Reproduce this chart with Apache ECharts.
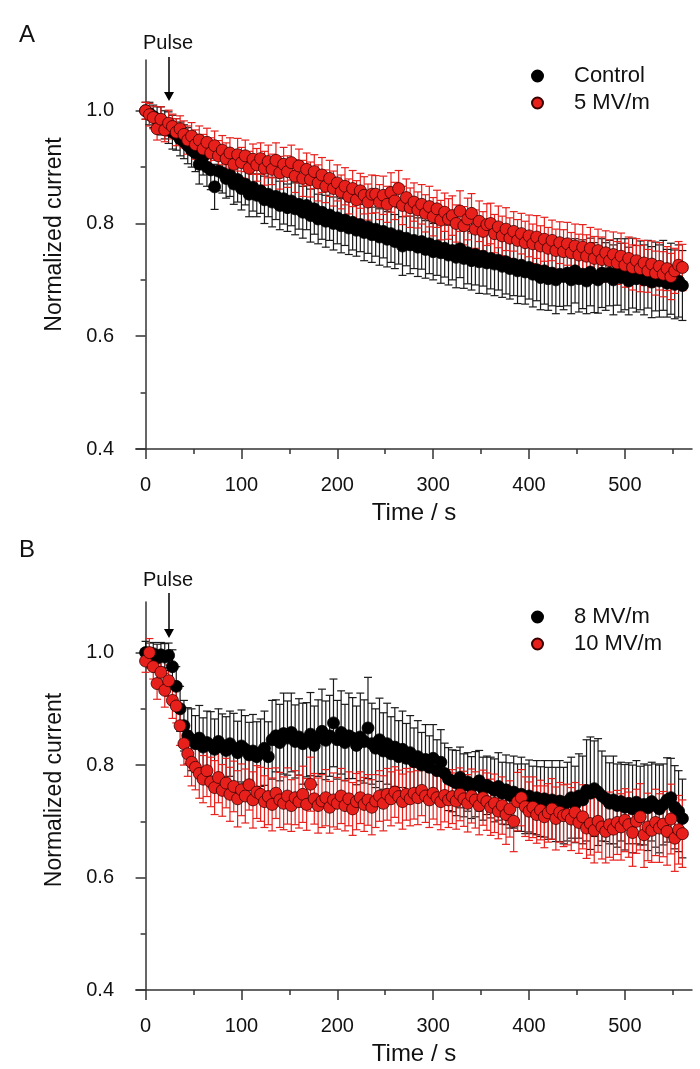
<!DOCTYPE html>
<html>
<head>
<meta charset="utf-8">
<script src="https://cdn.jsdelivr.net/npm/echarts@6/dist/echarts.min.js"></script>
<style>
    html, body { margin: 0; padding: 0; background: #fff; }
    #chart { width: 700px; height: 1069px; }
</style>
</head>
<body>
<div id="chart"></div>
<script>
// sampling times (s), shared by all four traces
var times = [
    0, 4, 8, 12, 16, 20, 24, 28, 32, 36,
    40, 44, 48, 52, 56, 60, 64, 68, 72, 76,
    80, 84, 88, 92, 96, 100, 104, 108, 112, 116,
    120, 124, 128, 132, 136, 140, 144, 148, 152, 156,
    160, 164, 168, 172, 176, 180, 184, 188, 192, 196,
    200, 204, 208, 212, 216, 220, 224, 228, 232, 236,
    240, 244, 248, 252, 256, 260, 264, 268, 272, 276,
    280, 284, 288, 292, 296, 300, 304, 308, 312, 316,
    320, 324, 328, 332, 336, 340, 344, 348, 352, 356,
    360, 364, 368, 372, 376, 380, 384, 388, 392, 396,
    400, 404, 408, 412, 416, 420, 424, 428, 432, 436,
    440, 444, 448, 452, 456, 460, 464, 468, 472, 476,
    480, 484, 488, 492, 496, 500, 504, 508, 512, 516,
    520, 524, 528, 532, 536, 540, 544, 548, 552, 556,
    560
];

// panel A - control
var controlA = [
    1.000, 0.995, 0.990, 0.985, 0.982, 0.975, 0.970, 0.962, 0.958, 0.950,
    0.945, 0.938, 0.930, 0.925, 0.905, 0.918, 0.900, 0.895, 0.865, 0.893,
    0.890, 0.880, 0.886, 0.870, 0.878, 0.862, 0.870, 0.852, 0.864, 0.850,
    0.858, 0.842, 0.852, 0.838, 0.848, 0.832, 0.844, 0.828, 0.840, 0.826,
    0.834, 0.820, 0.832, 0.814, 0.826, 0.808, 0.820, 0.804, 0.815, 0.800,
    0.810, 0.796, 0.806, 0.792, 0.802, 0.788, 0.798, 0.784, 0.794, 0.780,
    0.790, 0.776, 0.786, 0.772, 0.782, 0.768, 0.778, 0.760, 0.774, 0.762,
    0.770, 0.758, 0.768, 0.754, 0.764, 0.750, 0.760, 0.748, 0.756, 0.744,
    0.752, 0.740, 0.755, 0.738, 0.748, 0.734, 0.745, 0.732, 0.742, 0.730,
    0.738, 0.728, 0.735, 0.724, 0.732, 0.720, 0.728, 0.716, 0.726, 0.714,
    0.722, 0.710, 0.718, 0.704, 0.716, 0.702, 0.712, 0.700, 0.710, 0.706,
    0.712, 0.700, 0.716, 0.702, 0.710, 0.698, 0.714, 0.704, 0.700, 0.712,
    0.706, 0.712, 0.700, 0.714, 0.704, 0.710, 0.698, 0.712, 0.702, 0.708,
    0.700, 0.710, 0.696, 0.706, 0.698, 0.708, 0.694, 0.702, 0.692, 0.698,
    0.690
];
var controlAErr = [
    0.015, 0.020, 0.020, 0.022, 0.025, 0.025, 0.028, 0.030, 0.028, 0.030,
    0.030, 0.032, 0.030, 0.033, 0.035, 0.032, 0.034, 0.035, 0.040, 0.035,
    0.036, 0.035, 0.038, 0.036, 0.040, 0.038, 0.037, 0.040, 0.042, 0.038,
    0.040, 0.042, 0.040, 0.044, 0.041, 0.043, 0.045, 0.042, 0.044, 0.046,
    0.044, 0.046, 0.043, 0.047, 0.045, 0.044, 0.048, 0.046, 0.045, 0.047,
    0.046, 0.048, 0.045, 0.047, 0.049, 0.046, 0.048, 0.050, 0.047, 0.049,
    0.048, 0.050, 0.047, 0.049, 0.051, 0.048, 0.050, 0.052, 0.049, 0.051,
    0.050, 0.052, 0.049, 0.051, 0.053, 0.050, 0.052, 0.054, 0.051, 0.053,
    0.052, 0.054, 0.051, 0.053, 0.055, 0.052, 0.054, 0.056, 0.053, 0.055,
    0.054, 0.056, 0.053, 0.055, 0.057, 0.054, 0.056, 0.058, 0.055, 0.057,
    0.056, 0.058, 0.055, 0.057, 0.059, 0.056, 0.058, 0.060, 0.057, 0.059,
    0.058, 0.060, 0.057, 0.059, 0.061, 0.058, 0.060, 0.062, 0.059, 0.061,
    0.060, 0.058, 0.062, 0.059, 0.061, 0.063, 0.060, 0.062, 0.059, 0.061,
    0.062, 0.060, 0.063, 0.061, 0.064, 0.062, 0.060, 0.063, 0.061, 0.064,
    0.062
];

// panel A - 5 MV/m
var pulse5 = [
    1.000, 0.993, 0.988, 0.968, 0.985, 0.966, 0.978, 0.972, 0.962, 0.968,
    0.958, 0.948, 0.955, 0.940, 0.948, 0.932, 0.944, 0.925, 0.938, 0.920,
    0.930, 0.915, 0.925, 0.905, 0.922, 0.908, 0.920, 0.898, 0.914, 0.904,
    0.915, 0.898, 0.910, 0.896, 0.912, 0.890, 0.905, 0.892, 0.908, 0.884,
    0.902, 0.880, 0.896, 0.878, 0.892, 0.872, 0.886, 0.866, 0.880, 0.862,
    0.872, 0.856, 0.866, 0.848, 0.862, 0.842, 0.858, 0.850, 0.838, 0.852,
    0.852, 0.838, 0.850, 0.834, 0.855, 0.840, 0.862, 0.832, 0.846, 0.828,
    0.838, 0.824, 0.834, 0.818, 0.830, 0.812, 0.826, 0.806, 0.820, 0.808,
    0.814, 0.800, 0.822, 0.796, 0.808, 0.818, 0.790, 0.804, 0.786, 0.798,
    0.800, 0.782, 0.794, 0.778, 0.790, 0.774, 0.786, 0.770, 0.782, 0.766,
    0.778, 0.764, 0.776, 0.760, 0.772, 0.756, 0.770, 0.752, 0.766, 0.750,
    0.764, 0.748, 0.760, 0.744, 0.758, 0.742, 0.756, 0.738, 0.752, 0.736,
    0.748, 0.734, 0.745, 0.730, 0.742, 0.726, 0.738, 0.722, 0.734, 0.720,
    0.730, 0.716, 0.728, 0.712, 0.724, 0.710, 0.720, 0.706, 0.716, 0.726,
    0.722
];
var pulse5Err = [
    0.015, 0.020, 0.020, 0.020, 0.022, 0.021, 0.023, 0.022, 0.024, 0.023,
    0.024, 0.025, 0.024, 0.026, 0.025, 0.026, 0.025, 0.027, 0.026, 0.027,
    0.026, 0.028, 0.027, 0.026, 0.029, 0.027, 0.028, 0.030, 0.027, 0.029,
    0.028, 0.030, 0.029, 0.027, 0.031, 0.029, 0.030, 0.028, 0.031, 0.029,
    0.030, 0.032, 0.029, 0.031, 0.030, 0.032, 0.031, 0.029, 0.032, 0.031,
    0.032, 0.030, 0.033, 0.031, 0.032, 0.034, 0.031, 0.033, 0.032, 0.034,
    0.033, 0.031, 0.034, 0.032, 0.035, 0.033, 0.032, 0.034, 0.033, 0.035,
    0.034, 0.032, 0.035, 0.033, 0.036, 0.034, 0.033, 0.035, 0.034, 0.036,
    0.035, 0.033, 0.036, 0.034, 0.037, 0.035, 0.034, 0.036, 0.035, 0.037,
    0.036, 0.034, 0.037, 0.035, 0.038, 0.036, 0.035, 0.037, 0.036, 0.038,
    0.037, 0.035, 0.038, 0.036, 0.039, 0.037, 0.036, 0.038, 0.037, 0.039,
    0.038, 0.036, 0.039, 0.037, 0.040, 0.038, 0.037, 0.039, 0.038, 0.040,
    0.039, 0.037, 0.040, 0.038, 0.041, 0.039, 0.038, 0.040, 0.039, 0.041,
    0.040, 0.038, 0.041, 0.039, 0.042, 0.040, 0.039, 0.041, 0.040, 0.042,
    0.041
];

// panel B - 8 MV/m
var pulse8 = [
    1.000, 0.995, 0.998, 0.990, 0.996, 0.992, 0.995, 0.975, 0.940, 0.900,
    0.870, 0.852, 0.845, 0.838, 0.848, 0.832, 0.840, 0.835, 0.828, 0.842,
    0.835, 0.826, 0.838, 0.830, 0.822, 0.834, 0.828, 0.818, 0.825, 0.815,
    0.822, 0.830, 0.815, 0.845, 0.852, 0.840, 0.856, 0.848, 0.858, 0.842,
    0.850, 0.838, 0.845, 0.855, 0.835, 0.848, 0.860, 0.844, 0.852, 0.875,
    0.845, 0.858, 0.840, 0.852, 0.848, 0.835, 0.850, 0.842, 0.866, 0.838,
    0.830, 0.845, 0.825, 0.838, 0.820, 0.832, 0.815, 0.828, 0.812, 0.822,
    0.806, 0.815, 0.800, 0.810, 0.796, 0.812, 0.790, 0.805, 0.785, 0.775,
    0.772, 0.768, 0.778, 0.764, 0.770, 0.760, 0.766, 0.772, 0.758, 0.764,
    0.760, 0.755, 0.762, 0.750, 0.756, 0.746, 0.752, 0.742, 0.748, 0.740,
    0.745, 0.738, 0.742, 0.735, 0.740, 0.732, 0.738, 0.730, 0.736, 0.728,
    0.735, 0.742, 0.730, 0.745, 0.738, 0.755, 0.750, 0.758, 0.752, 0.745,
    0.740, 0.732, 0.738, 0.728, 0.735, 0.725, 0.732, 0.722, 0.734, 0.728,
    0.730, 0.724, 0.735, 0.728, 0.722, 0.730, 0.738, 0.742, 0.725, 0.718,
    0.705
];
var pulse8Err = [
    0.020, 0.022, 0.020, 0.025, 0.022, 0.024, 0.022, 0.030, 0.035, 0.040,
    0.045, 0.050, 0.055, 0.050, 0.058, 0.052, 0.056, 0.060, 0.054, 0.058,
    0.056, 0.060, 0.058, 0.062, 0.056, 0.064, 0.060, 0.058, 0.065, 0.062,
    0.060, 0.066, 0.062, 0.070, 0.064, 0.068, 0.072, 0.066, 0.070, 0.065,
    0.068, 0.072, 0.066, 0.074, 0.070, 0.068, 0.075, 0.070, 0.072, 0.078,
    0.070, 0.074, 0.068, 0.076, 0.072, 0.070, 0.078, 0.074, 0.090, 0.072,
    0.070, 0.074, 0.068, 0.072, 0.066, 0.070, 0.064, 0.068, 0.062, 0.066,
    0.060, 0.064, 0.058, 0.062, 0.056, 0.060, 0.055, 0.058, 0.054, 0.056,
    0.055, 0.058, 0.054, 0.056, 0.052, 0.055, 0.058, 0.054, 0.056, 0.052,
    0.054, 0.056, 0.060, 0.055, 0.062, 0.058, 0.064, 0.060, 0.066, 0.062,
    0.064, 0.060, 0.066, 0.062, 0.068, 0.064, 0.070, 0.066, 0.072, 0.068,
    0.070, 0.072, 0.068, 0.075, 0.078, 0.090, 0.100, 0.085, 0.095, 0.080,
    0.076, 0.072, 0.078, 0.074, 0.070, 0.076, 0.072, 0.078, 0.074, 0.070,
    0.072, 0.076, 0.070, 0.074, 0.078, 0.072, 0.075, 0.070, 0.074, 0.072,
    0.070
];

// panel B - 10 MV/m
var pulse10 = [
    0.985, 1.000, 0.975, 0.945, 0.965, 0.933, 0.950, 0.915, 0.905, 0.870,
    0.838, 0.820, 0.805, 0.796, 0.785, 0.775, 0.790, 0.770, 0.760, 0.778,
    0.755, 0.768, 0.748, 0.762, 0.740, 0.756, 0.745, 0.765, 0.738, 0.752,
    0.748, 0.735, 0.744, 0.730, 0.750, 0.738, 0.732, 0.745, 0.728, 0.742,
    0.735, 0.748, 0.730, 0.766, 0.740, 0.728, 0.736, 0.742, 0.725, 0.738,
    0.732, 0.745, 0.728, 0.740, 0.722, 0.735, 0.742, 0.730, 0.738, 0.725,
    0.736, 0.745, 0.732, 0.748, 0.740, 0.752, 0.744, 0.735, 0.748, 0.740,
    0.750, 0.742, 0.755, 0.745, 0.738, 0.750, 0.742, 0.735, 0.746, 0.738,
    0.744, 0.736, 0.748, 0.740, 0.732, 0.745, 0.738, 0.728, 0.742, 0.735,
    0.725, 0.732, 0.718, 0.728, 0.712, 0.722, 0.700, 0.735, 0.742, 0.726,
    0.718, 0.725, 0.712, 0.720, 0.708, 0.715, 0.722, 0.705, 0.716, 0.710,
    0.712, 0.704, 0.716, 0.698, 0.708, 0.688, 0.696, 0.684, 0.700, 0.690,
    0.682, 0.694, 0.686, 0.698, 0.690, 0.702, 0.694, 0.680, 0.700, 0.708,
    0.676, 0.690, 0.684, 0.698, 0.688, 0.695, 0.682, 0.704, 0.670, 0.685,
    0.678
];
var pulse10Err = [
    0.020, 0.025, 0.022, 0.028, 0.025, 0.030, 0.028, 0.032, 0.030, 0.035,
    0.038, 0.040, 0.042, 0.040, 0.044, 0.042, 0.046, 0.044, 0.048, 0.045,
    0.046, 0.044, 0.048, 0.045, 0.050, 0.046, 0.048, 0.045, 0.050, 0.047,
    0.048, 0.046, 0.050, 0.047, 0.045, 0.049, 0.047, 0.050, 0.046, 0.048,
    0.047, 0.050, 0.046, 0.048, 0.045, 0.049, 0.047, 0.050, 0.046, 0.048,
    0.046, 0.049, 0.045, 0.048, 0.047, 0.050, 0.046, 0.048, 0.045, 0.049,
    0.047, 0.045, 0.049, 0.046, 0.048, 0.045, 0.047, 0.049, 0.046, 0.048,
    0.046, 0.048, 0.045, 0.047, 0.049, 0.046, 0.048, 0.050, 0.047, 0.049,
    0.048, 0.050, 0.047, 0.049, 0.051, 0.048, 0.050, 0.052, 0.049, 0.051,
    0.050, 0.052, 0.049, 0.051, 0.053, 0.050, 0.054, 0.052, 0.050, 0.053,
    0.052, 0.054, 0.051, 0.053, 0.055, 0.052, 0.054, 0.056, 0.053, 0.055,
    0.054, 0.056, 0.053, 0.055, 0.057, 0.054, 0.056, 0.058, 0.055, 0.057,
    0.056, 0.058, 0.055, 0.057, 0.059, 0.056, 0.058, 0.060, 0.057, 0.059,
    0.058, 0.060, 0.057, 0.059, 0.061, 0.058, 0.060, 0.062, 0.059, 0.061,
    0.060
];

// axis ticks
var xMajorTicks = [0, 100, 200, 300, 400, 500];
var xMinorTicks = [50, 150, 250, 350, 450, 550];
var yMajorTicks = [0.4, 0.6, 0.8, 1.0];
var yMinorTicks = [0.5, 0.7, 0.9];

var FONT = '"Liberation Sans", Arial, sans-serif';
var INK = '#111';
var RED = '#e8201c';

function points(ys) {
    return times.map(function (t, i) { return [t, ys[i]]; });
}
function bars(ys, errs) {
    return times.map(function (t, i) { return [t, ys[i], errs[i]]; });
}

// vertical error bar with caps
function errorBar(color) {
    return function (params, api) {
        var x = api.value(0), y = api.value(1), e = api.value(2);
        var hi = api.coord([x, y + e]);
        var lo = api.coord([x, y - e]);
        var w = 4;
        var style = {stroke: color, lineWidth: 1.2};
        return {
            type: 'group',
            children: [
                {type: 'line', shape: {x1: hi[0], y1: hi[1], x2: lo[0], y2: lo[1]}, style: style},
                {type: 'line', shape: {x1: hi[0] - w, y1: hi[1], x2: hi[0] + w, y2: hi[1]}, style: style},
                {type: 'line', shape: {x1: lo[0] - w, y1: lo[1], x2: lo[0] + w, y2: lo[1]}, style: style}
            ]
        };
    };
}

function xAxes(grid) {
    return [{
        type: 'value', gridIndex: grid, min: -10, max: 570, position: 'bottom',
        name: 'Time / s', nameLocation: 'middle', nameGap: 52,
        nameTextStyle: {fontFamily: FONT, fontSize: 24, color: INK},
        axisLine: {lineStyle: {color: '#333', width: 1.5}},
        axisTick: {customValues: xMajorTicks, length: 10, lineStyle: {color: '#333', width: 1.5}},
        axisLabel: {customValues: xMajorTicks, margin: 26, fontFamily: FONT, fontSize: 20, color: INK},
        splitLine: {show: false}
    }, {
        type: 'value', gridIndex: grid, min: -10, max: 570, position: 'bottom',
        axisLine: {show: false},
        axisTick: {customValues: xMinorTicks, length: 5, lineStyle: {color: '#333', width: 1.5}},
        axisLabel: {show: false},
        splitLine: {show: false}
    }];
}

function yAxes(grid, shift) {
    return [{
        type: 'value', gridIndex: grid, min: 0.4, max: 1.09, position: 'left',
        name: 'Normalized current', nameLocation: 'middle', nameGap: 70,
        nameTextStyle: {fontFamily: FONT, fontSize: 23, color: INK, padding: [0, 0, 0, shift]},
        axisLine: {lineStyle: {color: '#333', width: 1.5}},
        axisTick: {customValues: yMajorTicks, length: 10, lineStyle: {color: '#333', width: 1.5}},
        axisLabel: {
            customValues: yMajorTicks, margin: 22, fontFamily: FONT, fontSize: 20, color: INK,
            formatter: function (v) { return v.toFixed(1); }
        },
        splitLine: {show: false}
    }, {
        type: 'value', gridIndex: grid, min: 0.4, max: 1.09, position: 'left',
        axisLine: {show: false},
        axisTick: {customValues: yMinorTicks, length: 5, lineStyle: {color: '#333', width: 1.5}},
        axisLabel: {show: false},
        splitLine: {show: false}
    }];
}

function legend(names, top) {
    return {
        data: names, orient: 'vertical', left: 531, top: top, padding: 0,
        icon: 'circle', itemWidth: 11, itemHeight: 11, itemGap: 5,
        textStyle: {fontFamily: FONT, fontSize: 22, color: INK, lineHeight: 22, padding: [0, 0, 0, 26]}
    };
}

function errSeries(data, color, axis) {
    return {
        type: 'custom', xAxisIndex: axis, yAxisIndex: axis,
        renderItem: errorBar(color), encode: {x: 0, y: 1}, data: data, silent: true
    };
}
function dotSeries(name, data, color, border, axis) {
    return {
        name: name, type: 'scatter', xAxisIndex: axis, yAxisIndex: axis,
        symbolSize: 12, data: data,
        itemStyle: {color: color, borderColor: border, borderWidth: 0.8, opacity: 1}
    };
}

// "Pulse" arrow annotation
function pulseMark(textY, y1, y2) {
    return [
        {type: 'text', left: 143, top: textY - 12,
            style: {text: 'Pulse', fontFamily: FONT, fontSize: 20, fill: INK}},
        {type: 'line', shape: {x1: 169, y1: y1, x2: 169, y2: y2 - 8},
            style: {stroke: '#000', lineWidth: 1.5}},
        {type: 'polygon', shape: {points: [[164, y2 - 9], [174, y2 - 9], [169, y2]]},
            style: {fill: '#000'}}
    ];
}

var chart = echarts.init(document.getElementById('chart'), null, {renderer: 'canvas'});

var option = {
    backgroundColor: '#fff',
    animation: false,
    grid: [
        {left: 136, top: 60, width: 556, height: 389},
        {left: 136, top: 602, width: 556, height: 388}
    ],
    xAxis: xAxes(0).concat(xAxes(1)),
    yAxis: yAxes(0, 40).concat(yAxes(1, 12)),
    legend: [
        legend(['Control', '5 MV/m'], 65),
        legend(['8 MV/m', '10 MV/m'], 606)
    ],
    graphic: [
        {type: 'text', left: 19, top: 23, style: {text: 'A', fontFamily: FONT, fontSize: 24, fill: INK}},
        {type: 'text', left: 19, top: 538, style: {text: 'B', fontFamily: FONT, fontSize: 24, fill: INK}}
    ].concat(pulseMark(45, 57, 101)).concat(pulseMark(582, 593, 638)),
    series: [
        errSeries(bars(controlA, controlAErr), '#1a1a1a', 0),
        dotSeries('Control', points(controlA), '#000', '#000', 0),
        errSeries(bars(pulse5, pulse5Err), RED, 0),
        dotSeries('5 MV/m', points(pulse5), RED, '#3a0000', 0),
        errSeries(bars(pulse8, pulse8Err), '#1a1a1a', 2),
        dotSeries('8 MV/m', points(pulse8), '#000', '#000', 2),
        errSeries(bars(pulse10, pulse10Err), RED, 2),
        dotSeries('10 MV/m', points(pulse10), RED, '#3a0000', 2)
    ]
};

chart.setOption(option);
</script>
</body>
</html>
